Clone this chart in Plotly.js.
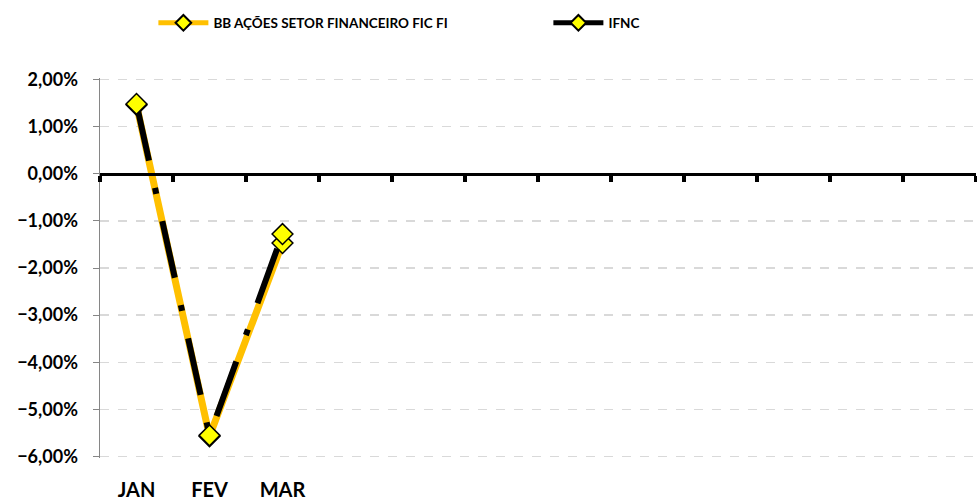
<!DOCTYPE html>
<html>
<head>
<meta charset="utf-8">
<script src="https://cdn.plot.ly/plotly-3.0.1.min.js"></script>
<style>
  html, body { margin: 0; padding: 0; background: #fff; }
  #chart { width: 977px; height: 502px; }
</style>
</head>
<body>
<div id="chart"></div>
<script>
// meses do ano (só os três primeiros têm dados)
const meses = ['JAN', 'FEV', 'MAR', 'ABR', 'MAI', 'JUN', 'JUL', 'AGO', 'SET', 'OUT', 'NOV', 'DEZ'];
const mesesComDados = ['JAN', 'FEV', 'MAR'];
const fundo = [0.0146, -0.0557, -0.0147];
const ifnc = [0.0148, -0.0555, -0.0128];
const nomeFundo = 'BB AÇÕES SETOR FINANCEIRO FIC FI';
const nomeIndice = 'IFNC';

// faixa do eixo y um pouquinho maior para as grades de 2% e -6% aparecerem
const faixaY = [-0.0603, 0.0203];
const posZero = (0 - faixaY[0]) / (faixaY[1] - faixaY[0]);

// bordas das categorias, para os tracinhos no eixo do zero
const bordas = [];
for (let i = 0; i <= meses.length; i++) bordas.push(i - 0.5);

const marcador = {
    symbol: 'diamond',
    size: 16,
    color: '#FFFF00',
    line: { color: '#000000', width: 1.5 }
};

const data = [{
    x: mesesComDados,
    y: fundo,
    name: nomeFundo,
    type: 'scatter',
    mode: 'lines+markers',
    line: { color: '#FFC000', width: 7 },
    marker: marcador
}, {
    x: mesesComDados,
    y: ifnc,
    name: nomeIndice,
    type: 'scatter',
    mode: 'lines+markers',
    line: { color: '#000000', width: 6, dash: '58px,28px,6px,28px' },
    marker: marcador
}, {
    // traço vazio só para o eixo do zero ser desenhado
    x: [],
    y: [],
    xaxis: 'x2',
    type: 'scatter',
    mode: 'lines',
    showlegend: false,
    hoverinfo: 'skip'
}];

const layout = {
    width: 977,
    height: 502,
    margin: { l: 100, r: 1, t: 78, b: 44 },
    paper_bgcolor: '#ffffff',
    plot_bgcolor: '#ffffff',
    separators: ',.',
    font: { family: 'Lato, "Open Sans", sans-serif', color: '#000000' },
    showlegend: true,
    legend: {
        orientation: 'h',
        xref: 'container',
        yref: 'container',
        x: 0.157,
        y: 0.985,
        xanchor: 'left',
        yanchor: 'top',
        itemwidth: 50,
        entrywidth: 330,
        itemsizing: 'constant',
        font: { size: 13.5, weight: 'bold', family: 'Lato, sans-serif' }
    },
    xaxis: {
        type: 'category',
        categoryorder: 'array',
        categoryarray: meses,
        range: [-0.5, meses.length - 0.5],
        tickmode: 'array',
        tickvals: mesesComDados,
        ticktext: mesesComDados,
        ticks: '',
        showline: false,
        showgrid: false,
        zeroline: false,
        ticklabelstandoff: 18,
        tickfont: { size: 20, weight: 'bold' }
    },
    xaxis2: {
        overlaying: 'x',
        anchor: 'free',
        position: posZero,
        range: [-0.5, meses.length - 0.5],
        tickmode: 'array',
        tickvals: bordas,
        showticklabels: false,
        ticks: 'outside',
        ticklen: 6,
        tickwidth: 4,
        tickcolor: '#000000',
        showline: true,
        linecolor: '#000000',
        linewidth: 3.5,
        showgrid: false,
        zeroline: false
    },
    yaxis: {
        range: faixaY,
        tick0: 0,
        dtick: 0.01,
        tickformat: '.2%',
        showline: true,
        linecolor: '#868686',
        linewidth: 1.5,
        ticks: 'outside',
        ticklen: 6,
        tickcolor: '#868686',
        ticklabelstandoff: 11,
        showgrid: true,
        gridcolor: '#d9d9d9',
        gridwidth: 1.5,
        griddash: 'dash',
        zeroline: false,
        tickfont: { size: 18, weight: 'bold' }
    }
};

Plotly.newPlot('chart', data, layout, { displayModeBar: false, staticPlot: true });
</script>
</body>
</html>
